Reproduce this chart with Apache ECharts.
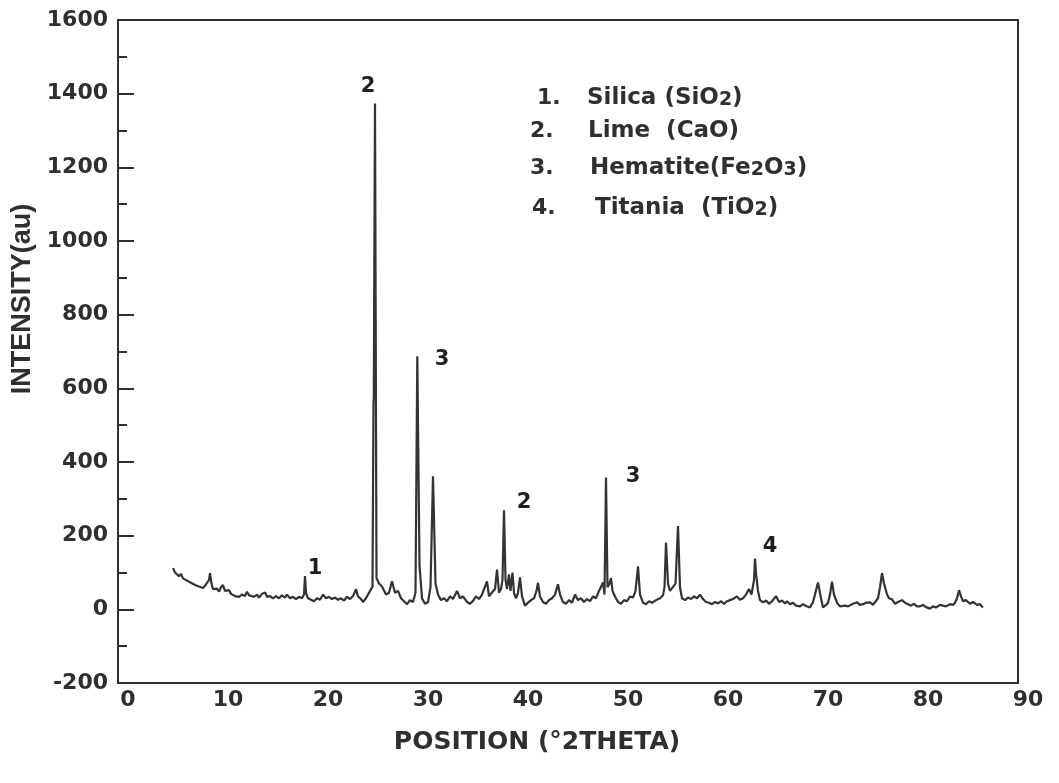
<!DOCTYPE html>
<html><head><meta charset="utf-8">
<script src="https://cdn.jsdelivr.net/npm/echarts@6/dist/echarts.min.js"></script>
<style>html,body{margin:0;padding:0;background:#fff}#c{width:1059px;height:783px}</style>
</head><body><div id="c"></div>
<script>
// ---- data ----
const twoTheta = [
5.5,5.7,5.9,6.1,6.3,6.5,6.7,6.9,7.1,7.3,7.5,7.7,7.9,8.1,8.3,8.5,8.7,8.9,9.1,9.2,9.35,9.5,9.7,9.9,
10.1,10.3,10.5,10.7,10.9,11.1,11.3,11.5,11.7,11.9,12.1,12.4,12.7,12.9,13.1,13.3,13.6,13.9,14.1,14.4,14.7,14.9,
15.2,15.5,15.8,16.1,16.4,16.7,16.9,17.2,17.5,17.8,18.1,18.4,18.6,18.7,18.8,19.0,19.3,19.6,19.9,
20.2,20.5,20.8,21.1,21.4,21.7,22.0,22.3,22.6,22.9,23.2,23.5,23.8,24.0,24.3,24.5,24.8,25.0,25.2,
25.45,25.55,25.58,25.7,25.85,26.1,26.4,26.8,27.1,27.4,27.7,28.0,28.3,28.6,28.9,29.2,29.5,29.75,29.93,
30.15,30.4,30.7,31.0,31.25,31.5,31.75,32.0,32.3,32.6,32.9,33.2,33.5,33.9,34.2,34.5,34.9,35.2,35.5,
35.8,36.1,36.4,36.6,36.9,37.1,37.4,37.7,37.9,38.1,38.3,38.45,38.6,38.75,38.9,39.1,39.25,39.45,39.6,39.8,
40.0,40.2,40.4,40.7,41.0,41.3,41.6,41.85,42.0,42.2,42.5,42.8,43.1,43.4,43.7,44.0,44.2,44.5,44.8,
45.1,45.4,45.7,46.0,46.3,46.6,46.9,47.2,47.5,47.8,48.1,48.3,48.5,48.65,48.8,48.95,49.15,49.3,49.45,49.7,
50.0,50.3,50.6,50.9,51.2,51.5,51.75,52.0,52.2,52.5,52.8,53.1,53.4,53.8,54.2,54.5,54.65,54.8,55.0,55.2,55.4,
55.75,56.0,56.2,56.4,56.7,57.0,57.3,57.6,57.9,58.2,58.5,58.8,59.1,59.4,59.7,60.0,60.3,60.6,60.9,61.2,61.5,
61.9,62.2,62.5,62.8,63.1,63.35,63.6,63.7,63.82,64.0,64.2,64.5,64.8,65.1,65.4,65.8,66.1,66.4,66.7,66.9,
67.2,67.5,67.8,68.2,68.5,68.8,69.2,69.5,69.7,70.0,70.3,70.5,70.8,71.0,71.2,71.4,71.6,71.9,72.2,72.4,72.7,
73.0,73.2,73.5,73.9,74.2,74.5,74.8,75.2,75.5,75.7,76.0,76.2,76.4,76.6,76.9,77.1,77.4,77.7,78.0,78.4,78.7,
79.0,79.3,79.6,79.9,80.2,80.5,80.8,81.2,81.5,81.8,82.2,82.5,82.8,83.2,83.5,83.7,83.9,84.1,84.3,84.5,84.8,
85.2,85.5,85.9,86.2,86.5
];
const intensity = [
112,100,105,90,96,84,88,78,80,72,76,66,70,62,66,58,64,60,80,98,70,55,50,56,
48,60,66,50,45,52,42,46,36,38,34,40,36,48,38,42,34,40,32,42,46,34,
36,30,36,30,38,32,40,30,34,28,34,30,40,90,45,30,26,22,30,
26,40,30,34,28,32,26,30,24,34,28,36,55,35,28,20,30,40,45,
62,560,578,1373,85,70,62,40,45,76,45,50,30,22,14,25,20,45,687,
120,30,15,20,60,361,70,40,25,30,22,35,28,50,30,35,20,15,23,
35,28,40,35,76,35,46,55,108,45,55,80,269,80,55,95,50,100,45,30,
45,87,35,10,18,25,30,50,72,35,20,15,25,30,40,68,40,20,15,
25,18,40,25,30,20,28,22,35,30,50,45,73,40,358,60,70,85,50,35,
20,15,25,22,35,32,50,117,40,18,14,22,18,25,30,38,60,181,70,50,45,
70,226,60,30,25,32,28,35,30,40,28,20,18,14,20,16,22,15,22,25,28,
35,26,30,40,55,40,80,138,92,50,25,19,24,15,22,36,20,24,16,22,
14,18,10,8,14,9,5,20,40,73,30,5,12,18,40,75,40,18,8,3,10,
8,10,15,19,12,14,18,19,12,10,30,60,98,70,41,30,27,15,20,25,18,
14,10,15,8,8,12,6,2,8,5,12,10,8,14,12,18,30,52,35,22,25,
15,20,12,14,5
];
const peakLabelX = [25.0, 32.4, 19.7, 40.6, 51.5, 65.2];
const peakLabelY = [1419, 678, 111, 290, 361, 171];
const peakLabelText = ['2', '3', '1', '2', '3', '4'];
const legendNumbers = ['1.', '2.', '3.', '4.'];
const legendNames = ['Silica (SiO_2)', 'Lime  (CaO)', 'Hematite(Fe_2O_3)', 'Titania  (TiO_2)'];
const xAxisTitle = 'POSITION (°2THETA)';
const yAxisTitle = 'INTENSITY(au)';

// ---- chart ----
const chart = echarts.init(document.getElementById('c'), null, {renderer: 'canvas'});
const ink = '#2f2f2f';
const FONT = 'DejaVu Sans';
const traceData = twoTheta.map((x, i) => [x, intensity[i]]);

const legendNumX = [537, 530, 530, 532];
const legendNameX = [587, 588, 590, 595];
const legendY = [98, 131, 168, 208];
const legendGraphics = [];
legendNames.forEach((name, i) => {
  legendGraphics.push({
    type: 'text', x: legendNumX[i], y: legendY[i],
    style: {text: legendNumbers[i], fill: ink, font: 'bold 22px "' + FONT + '"', textVerticalAlign: 'middle'}
  });
  legendGraphics.push({
    type: 'text', x: legendNameX[i], y: legendY[i],
    style: {
      text: name.replace(/_(\d)/g, '{s|$1}'),
      fill: ink, font: 'bold 23px "' + FONT + '"', textVerticalAlign: 'middle',
      rich: {s: {fontSize: 19, fontWeight: 'bold', fontFamily: FONT, fill: ink, verticalAlign: 'bottom', lineHeight: 19, padding: [14, 0, 0, 0]}}
    }
  });
});

chart.setOption({
  backgroundColor: '#ffffff',
  animation: false,
  grid: {left: 118, top: 20, width: 900, height: 663, show: true, borderColor: ink, borderWidth: 2, backgroundColor: 'transparent'},
  xAxis: {
    type: 'value', min: 0, max: 90, interval: 10,
    axisLine: {show: true, onZero: false, lineStyle: {color: ink, width: 2}},
    axisTick: {show: false},
    splitLine: {show: false},
    axisLabel: {color: ink, fontSize: 22, fontWeight: 'bold', fontFamily: FONT, margin: 6, padding: [0, 0, 0, 20]}
  },
  yAxis: {
    type: 'value', min: -200, max: 1600, interval: 200,
    axisLine: {show: true, onZero: false, lineStyle: {color: ink, width: 2}},
    axisTick: {show: true, inside: true, length: 16, lineStyle: {color: ink, width: 2}},
    minorTick: {show: true, splitNumber: 2, length: 9, lineStyle: {color: ink, width: 2}},
    splitLine: {show: false},
    axisLabel: {color: ink, fontSize: 22, fontWeight: 'bold', fontFamily: FONT, margin: 10, formatter: v => String(v)}
  },
  series: [
    {
      type: 'line', data: traceData, showSymbol: false, symbol: 'none',
      lineStyle: {color: '#333333', width: 2.2}, z: 3,
      markPoint: {
        symbol: 'circle', symbolSize: 0, silent: true,
        itemStyle: {color: ink},
        label: {show: true, position: 'inside', formatter: p => p.data.value,
          color: '#1e1e1e', fontSize: 21, fontWeight: 'bold', fontFamily: FONT, textBorderWidth: 0},
        data: peakLabelX.map((x, i) => ({coord: [x, peakLabelY[i]], value: peakLabelText[i]}))
      }
    }
  ],
  graphic: [
    {type: 'text', x: 23, y: 299, rotation: Math.PI / 2,
      style: {text: yAxisTitle, fill: ink, font: 'bold 27px "Liberation Sans"', textAlign: 'center', textVerticalAlign: 'middle'}},
    {type: 'text', x: 537, y: 742,
      style: {text: xAxisTitle, fill: ink, font: 'bold 25px "' + FONT + '"', textAlign: 'center', textVerticalAlign: 'middle'}}
  ].concat(legendGraphics)
});
</script></body></html>
